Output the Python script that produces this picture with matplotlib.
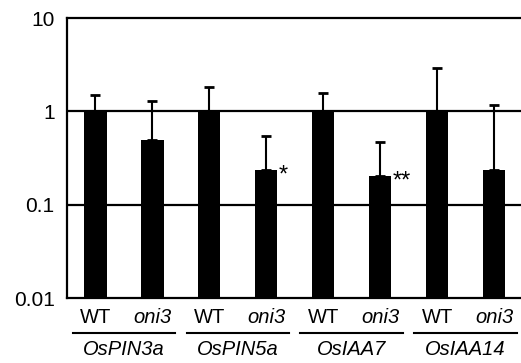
import numpy as np
import matplotlib.pyplot as plt
from matplotlib.transforms import blended_transform_factory

plt.rcParams["font.family"] = ["Liberation Sans", "DejaVu Sans"]

# relative expression, one WT / oni3 pair per gene
genes = ["OsPIN3a", "OsPIN5a", "OsIAA7", "OsIAA14"]
genotypes = ["WT", "oni3"]
values = [1.0, 0.49, 1.0, 0.234, 1.0, 0.203, 1.0, 0.238]
err_top = [1.51, 1.28, 1.85, 0.55, 1.57, 0.47, 2.9, 1.18]
marks = ["", "", "", "*", "", "**", "", ""]

x = np.arange(len(values))
values = np.array(values)
upper = np.array(err_top) - values

fig = plt.figure(figsize=(5.21, 3.63), dpi=100)
ax = fig.add_axes([0.1286, 0.179, 1.003 - 0.1286, 0.950 - 0.179])

ax.set_yscale("log")
ax.set_ylim(0.01, 10)
ax.set_xlim(-0.5, len(values) - 0.5)

# black reference lines at 1 and 0.1, behind the bars
for y in [1, 0.1]:
    ax.axhline(y, color="black", lw=1.6, zorder=1)

ax.bar(x, values, width=0.39, color="black", zorder=2)
ax.errorbar(x, values, yerr=[np.zeros_like(upper), upper], fmt="none",
            ecolor="black", elinewidth=1.5, capsize=3.5, capthick=2, zorder=3)

for xi, v, m in zip(x, values, marks):
    if m:
        ax.text(xi + 0.22, v * 1.15, m, ha="left", va="top", fontsize=17)

ax.set_yticks([0.01, 0.1, 1, 10])
ax.set_yticklabels(["0.01", "0.1", "1", "10"])
ax.yaxis.set_minor_locator(plt.NullLocator())
ax.tick_params(axis="y", length=0, pad=9, labelsize=15)

ax.set_xticks(x)
ax.set_xticklabels(genotypes * len(genes))
for i, lab in enumerate(ax.get_xticklabels()):
    if i % 2 == 1:
        lab.set_style("italic")
ax.tick_params(axis="x", length=0, pad=7, labelsize=14.5)

for s in ax.spines.values():
    s.set_linewidth(1.6)

# group underlines and gene names
trans = blended_transform_factory(ax.transData, ax.transAxes)
for g, name in enumerate(genes):
    x0 = 2 * g
    ax.plot([x0 - 0.4, x0 + 1.4], [-0.125, -0.125], color="black", lw=1.5,
            transform=trans, clip_on=False)
    ax.text(x0 + 0.5, -0.185, name, transform=trans, ha="center", va="center",
            fontsize=14.5, style="italic")

fig.savefig("out.png", dpi=100)
